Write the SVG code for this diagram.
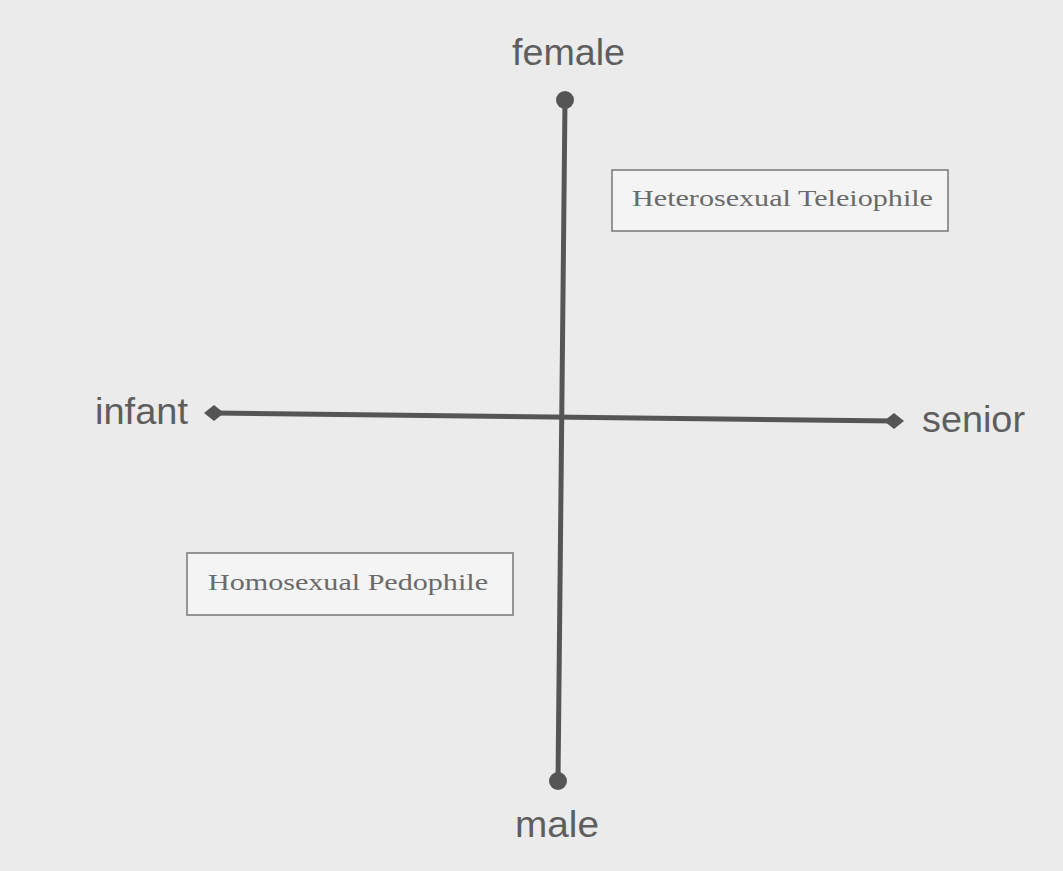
<svg xmlns="http://www.w3.org/2000/svg" width="1063" height="871" viewBox="0 0 1063 871">
<style>
.axis{stroke:#555;stroke-width:5;fill:none;stroke-linecap:round}
.dot{fill:#555}
.lab{font-family:"Liberation Sans",Arial,sans-serif;font-size:36px;fill:#5e5e5e}
.box{fill:#f4f4f4;stroke:#777;stroke-width:1.5}
.bt{font-family:"Liberation Serif","Times New Roman",serif;font-size:24px;fill:#6a6a6a}
</style>
<rect width="1063" height="871" fill="#ebebeb"/>
<g id="connectors">
<line class="axis" x1="565" y1="100" x2="558" y2="781"/>
<line class="axis" x1="214" y1="413" x2="894" y2="421"/>
<circle class="dot" cx="565" cy="100" r="9"/>
<circle class="dot" cx="558" cy="781" r="9"/>
<polygon class="dot" points="204,413 214,405 224,413 214,421"/>
<polygon class="dot" points="884,421 894,413 904,421 894,429"/>
</g>
<g id="female"><text class="lab" x="512" y="65" textLength="113" lengthAdjust="spacingAndGlyphs">female</text></g>
<g id="male"><text class="lab" x="515" y="837" textLength="84" lengthAdjust="spacingAndGlyphs">male</text></g>
<g id="infant"><text class="lab" x="95" y="424" textLength="93" lengthAdjust="spacingAndGlyphs">infant</text></g>
<g id="senior"><text class="lab" x="922" y="432" textLength="103" lengthAdjust="spacingAndGlyphs">senior</text></g>
<g id="hetero">
<rect class="box" x="612" y="170" width="336" height="61"/>
<text class="bt" x="632" y="206" textLength="301" lengthAdjust="spacingAndGlyphs">Heterosexual Teleiophile</text>
</g>
<g id="homo">
<rect class="box" x="187" y="553" width="326" height="62"/>
<text class="bt" x="208" y="590" font-size="25" textLength="280" lengthAdjust="spacingAndGlyphs">Homosexual Pedophile</text>
</g>
</svg>
